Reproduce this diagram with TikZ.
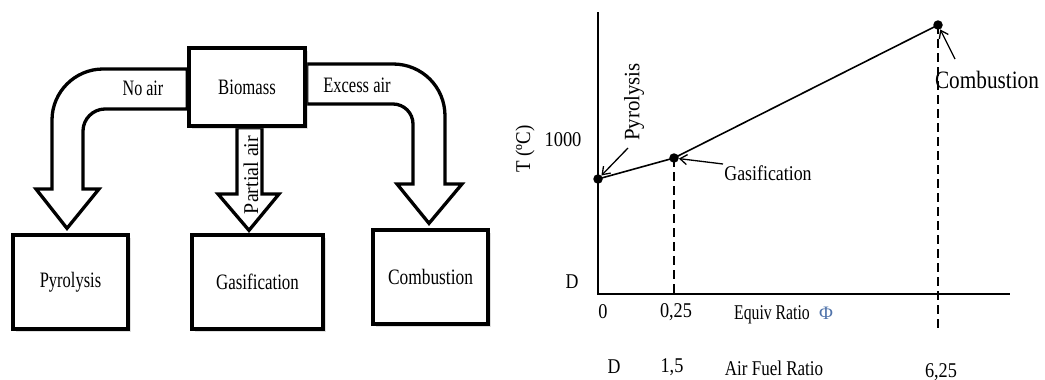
\documentclass[tikz,border=0pt]{standalone}
\usepackage{fontspec}
\setmainfont{Liberation Serif}
\usetikzlibrary{arrows.meta,calc,shadows}
\pgfdeclarelayer{bg}
\pgfsetlayers{bg,main}
% condensed label text: size, horizontal squeeze, text
\newcommand\lbl[3]{\scalebox{#2}[1]{\fontsize{#1}{#1}\selectfont #3}}
\definecolor{phiblue}{RGB}{80,115,170}

\begin{document}
\begin{tikzpicture}[x=1pt,y=-1pt,
  box/.style={draw,line width=3.3pt,fill=white,inner sep=0pt,
    drop shadow={shadow xshift=2.5pt,shadow yshift=-2.5pt,opacity=0.25}},
  blockarrow/.style={draw,line width=3.3pt,fill=white,line join=miter},
  txt/.style={inner sep=0pt},
  axis/.style={line width=2.8pt},
  curve/.style={line width=1.6pt},
  dsh/.style={line width=2.6pt,dash pattern=on 9pt off 5pt},
  dot/.style={circle,fill=black,inner sep=0pt,minimum size=9.5pt},
  note/.style={line width=1.3pt,-{Straight Barb[length=7pt,width=10pt]}},
]
\useasboundingbox (0,0) rectangle (1045,380);

% ---------- process boxes ----------
\node[box,minimum width=116pt,minimum height=78pt] (bio) at (247,87) {\lbl{22}{0.76}{Biomass}};
\node[box,minimum width=115pt,minimum height=94pt] (pyr) at (70.5,282) {\lbl{22}{0.75}{Pyrolysis}};
\node[box,minimum width=131pt,minimum height=94pt] (gas) at (257.5,282) {\lbl{22}{0.77}{Gasification}};
\node[box,minimum width=115pt,minimum height=94pt] (com) at (430.5,277) {\lbl{22}{0.79}{Combustion}};

% ---------- block arrows (behind the boxes) ----------
\begin{pgfonlayer}{bg}
\draw[blockarrow] ($(bio.west)+(0,-18)$) -- (103,69)
  .. controls (75,69) and (52,92) .. (52,120) -- (52,189) -- (36,189)
  -- ($(pyr.north)+(-3.5,-5)$) -- (99,189) -- (83,189) -- (83,131)
  .. controls (83,119) and (93,109) .. (105,109) -- ($(bio.west)+(0,22)$) -- cycle;
\draw[blockarrow] ($(bio.east)+(0,-23)$) -- (393,64)
  .. controls (422,64) and (445,87) .. (445,116) -- (445,184) -- (462,184)
  -- ($(com.north)+(-1.5,-5)$) -- (397,184) -- (413,184) -- (413,124)
  .. controls (413,113) and (404,104) .. (393,104) -- ($(bio.east)+(0,17)$) -- cycle;
\draw[blockarrow] ($(bio.south)+(-10,0)$) -- (237,194) -- (218,194)
  -- ($(gas.north)+(-8.5,-3)$) -- (279,194) -- (262,194) -- ($(bio.south)+(15,0)$) -- cycle;
\end{pgfonlayer}

\node[txt] at (143,88) {\lbl{22}{0.73}{No air}};
\node[txt] at (357,85) {\lbl{22}{0.75}{Excess air}};
\node[txt,rotate=90] at (251,175) {\lbl{21}{0.95}{Partial air}};

% ---------- temperature vs. equivalence ratio ----------
\coordinate (O) at (598,294);
\coordinate (ytop) at (598,12);
\coordinate (xend) at (1010,294);
\draw[axis] (ytop) -- (O) -- (xend);

\node[dot] (p1) at (598,179) {};
\node[dot] (p2) at (674,158) {};
\node[dot] (p3) at (938,25) {};
\draw[curve] (p1.center) -- (p2.center) -- (p3.center);

\coordinate (c3) at (938,328);
\draw[dsh] (p2.center) -- (p2 |- O);
\draw[dsh] (p3.center) -- (c3);

\node[txt,rotate=90] (lp) at (634,102) {\lbl{22}{0.95}{Pyrolysis}};
\coordinate (ap) at (628,148);
\draw[note] (ap) -- (p1);
\node[txt] (lg) at (768,173) {\lbl{21}{0.85}{Gasification}};
\coordinate (ag) at (723,164);
\draw[note] (ag) -- (p2);
\node[txt] (lc) at (987,80) {\lbl{25}{0.85}{Combustion}};
\coordinate (ac) at (955,59);
\draw[note] (ac) -- (p3);

\node[txt] at (563,140) {\lbl{21}{0.88}{1000}};
\node[txt,rotate=90] at (525,149) {\lbl{21}{0.9}{T (ºC)}};
\node[txt] at (572,282) {\lbl{21}{0.85}{D}};
\node[txt] at (603,312) {\lbl{21}{0.87}{0}};
\node[txt] at (676,312) {\lbl{21}{0.87}{0,25}};
\node[txt] at (772,315) {\lbl{21}{0.75}{Equiv Ratio}};
\node[txt] at (826,313) {\textcolor{phiblue}{\fontsize{19}{19}\selectfont Φ}};
\node[txt] at (614,367) {\lbl{21}{0.85}{D}};
\node[txt] at (672,367) {\lbl{21}{0.87}{1,5}};
\node[txt] at (774,368) {\lbl{21}{0.81}{Air Fuel Ratio}};
\node[txt] at (941,372) {\lbl{21}{0.87}{6,25}};
\end{tikzpicture}
\end{document}
